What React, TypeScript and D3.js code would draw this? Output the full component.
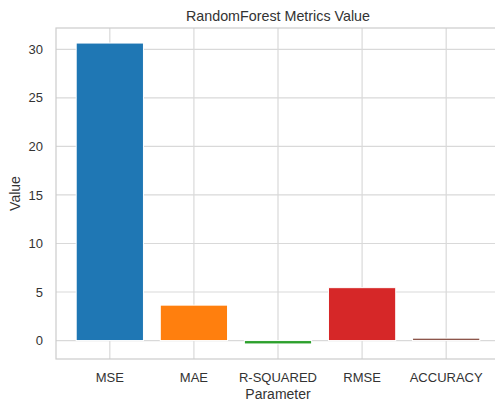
import * as d3 from "d3";
import { useEffect, useRef } from "react";

const categories = ["MSE", "MAE", "R-SQUARED", "RMSE", "ACCURACY"];
const values = [30.65, 3.65, -0.35, 5.45, 0.25];
const colors = ["#1f77b4", "#ff7f0e", "#2ca02c", "#d62728", "#8c564b"];
const yTicks = [0, 5, 10, 15, 20, 25, 30];

const App = () => {
  const svgRef = useRef<SVGSVGElement | null>(null);

  useEffect(() => {
    const width = 495;
    const height = 402;
    const plot = { left: 56, right: 500, top: 28, bottom: 359 };

    const svg = d3.select(svgRef.current);
    svg.selectAll("*").remove();
    svg.attr("width", width).attr("height", height);

    const font = "'Liberation Sans', Arial, sans-serif";

    // matplotlib-style 5% margins around the data
    const lo = Math.min(0, d3.min(values)!);
    const hi = Math.max(0, d3.max(values)!);
    const pad = (hi - lo) * 0.05;
    const y = d3.scaleLinear().domain([lo - pad, hi + pad]).range([plot.bottom, plot.top]);

    const x = d3
      .scaleBand()
      .domain(categories)
      .range([plot.left, plot.right])
      .paddingInner(0.2)
      .paddingOuter(0.24);

    const grid = "#d9d9d9";

    // horizontal grid
    svg
      .append("g")
      .selectAll("line")
      .data(yTicks)
      .enter()
      .append("line")
      .attr("x1", plot.left)
      .attr("x2", plot.right)
      .attr("y1", (d) => y(d))
      .attr("y2", (d) => y(d))
      .style("stroke", grid)
      .style("stroke-width", "1.2px");

    // vertical grid
    svg
      .append("g")
      .selectAll("line")
      .data(categories)
      .enter()
      .append("line")
      .attr("x1", (d) => x(d)! + x.bandwidth() / 2)
      .attr("x2", (d) => x(d)! + x.bandwidth() / 2)
      .attr("y1", plot.top)
      .attr("y2", plot.bottom)
      .style("stroke", grid)
      .style("stroke-width", "1.2px");

    // bars
    svg
      .append("g")
      .selectAll("rect")
      .data(values)
      .enter()
      .append("rect")
      .attr("x", (_, i) => x(categories[i])!)
      .attr("y", (d) => y(Math.max(0, d)))
      .attr("width", x.bandwidth())
      .attr("height", (d) => Math.abs(y(d) - y(0)))
      .style("fill", (_, i) => colors[i])
      .style("stroke", "white")
      .style("stroke-width", "1px");

    // frame
    svg
      .append("rect")
      .attr("x", plot.left)
      .attr("y", plot.top)
      .attr("width", plot.right - plot.left)
      .attr("height", plot.bottom - plot.top)
      .style("fill", "none")
      .style("stroke", "#cccccc")
      .style("stroke-width", "1.2px");

    // y tick labels
    svg
      .append("g")
      .selectAll("text")
      .data(yTicks)
      .enter()
      .append("text")
      .attr("x", 43)
      .attr("y", (d) => y(d))
      .attr("dy", "0.35em")
      .attr("text-anchor", "end")
      .style("font-family", font)
      .style("font-size", "13px")
      .style("fill", "#333333")
      .text((d) => d);

    // x tick labels
    svg
      .append("g")
      .selectAll("text")
      .data(categories)
      .enter()
      .append("text")
      .attr("x", (d) => x(d)! + x.bandwidth() / 2)
      .attr("y", 382)
      .attr("text-anchor", "middle")
      .style("font-family", font)
      .style("font-size", "13px")
      .style("fill", "#333333")
      .text((d) => d);

    svg
      .append("text")
      .attr("x", (plot.left + plot.right) / 2)
      .attr("y", 399)
      .attr("text-anchor", "middle")
      .style("font-family", font)
      .style("font-size", "14px")
      .style("fill", "#333333")
      .text("Parameter");

    svg
      .append("text")
      .attr("transform", `translate(20, ${(plot.top + plot.bottom) / 2}) rotate(-90)`)
      .attr("text-anchor", "middle")
      .style("font-family", font)
      .style("font-size", "14px")
      .style("fill", "#333333")
      .text("Value");

    svg
      .append("text")
      .attr("x", (plot.left + plot.right) / 2)
      .attr("y", 21)
      .attr("text-anchor", "middle")
      .style("font-family", font)
      .style("font-size", "14.3px")
      .style("fill", "#333333")
      .text("RandomForest Metrics Value");
  }, []);

  return (
    <svg
      ref={svgRef}
      style={{ position: "absolute", left: 0, top: 0, display: "block" }}
    />
  );
};

export default App;
